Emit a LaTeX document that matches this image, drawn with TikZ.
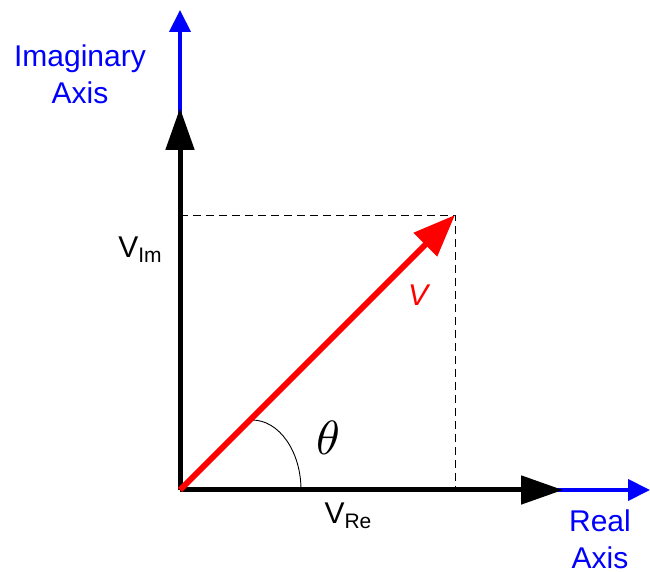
\documentclass[tikz,border=0pt]{standalone}
\usepackage{fontspec}
\setmainfont{Liberation Sans}
\usetikzlibrary{arrows.meta}
\tikzstyle{axislabel} = [
    text=blue,
    align=center,
    font=\fontsize{30}{37}\selectfont
]
\tikzstyle{partlabel} = [
    font=\fontsize{30}{30}\selectfont
]
\tikzstyle{axis} = [line width=5pt, -{Triangle[length=42pt,width=28pt]}]
\tikzstyle{axisext} = [blue, line width=4pt, -{Triangle[length=22pt,width=21pt]}]
\tikzstyle{vector} = [red, line width=6pt, -{Triangle[length=42pt,width=32pt]}]
\tikzstyle{proj} = [line width=0.9pt, dash pattern=on 8pt off 5pt]

\newcommand{\subtxt}[1]{\raisebox{-5pt}{\fontsize{21}{21}\selectfont #1}}

\begin{document}
\begin{tikzpicture}[x=1pt, y=1pt]
\useasboundingbox (0,0) rectangle (650,572);

\coordinate (origin) at (180,82);
\coordinate (imtip) at (180,464);
\coordinate (imend) at (180,562);
\coordinate (retip) at (563,82);
\coordinate (reend) at (650,82);
\coordinate (vtip) at (455,357);
\coordinate (imfoot) at (180,357);
\coordinate (refoot) at (455,82);

% projections
\draw [proj] (imfoot) -- (vtip) -- (refoot);

% axes
\draw [axisext] (origin) -- (imend);
\draw [axisext] (origin) -- (reend);
\draw [axis] (origin) -- (imtip);
\draw [axis] (origin) -- (retip);

% angle
\draw [line width=0.9pt] (301,82) arc [start angle=0, end angle=90, x radius=49, y radius=70];

\draw [vector] (origin) -- (vtip);

\node (imlabel) [axislabel] at (80,498) {Imaginary\\Axis};
\node (relabel) [axislabel] at (600,33) {Real\\Axis};
\node (vim) [partlabel] at (140,322) {V\subtxt{Im}};
\node (vre) [partlabel] at (348,56) {V\subtxt{Re}};
\node (vlabel) [partlabel, text=red] at (418,277) {\itshape V};
\node (theta) at (328,134) {\scalebox{4.8}{$\theta$}};

\end{tikzpicture}
\end{document}
